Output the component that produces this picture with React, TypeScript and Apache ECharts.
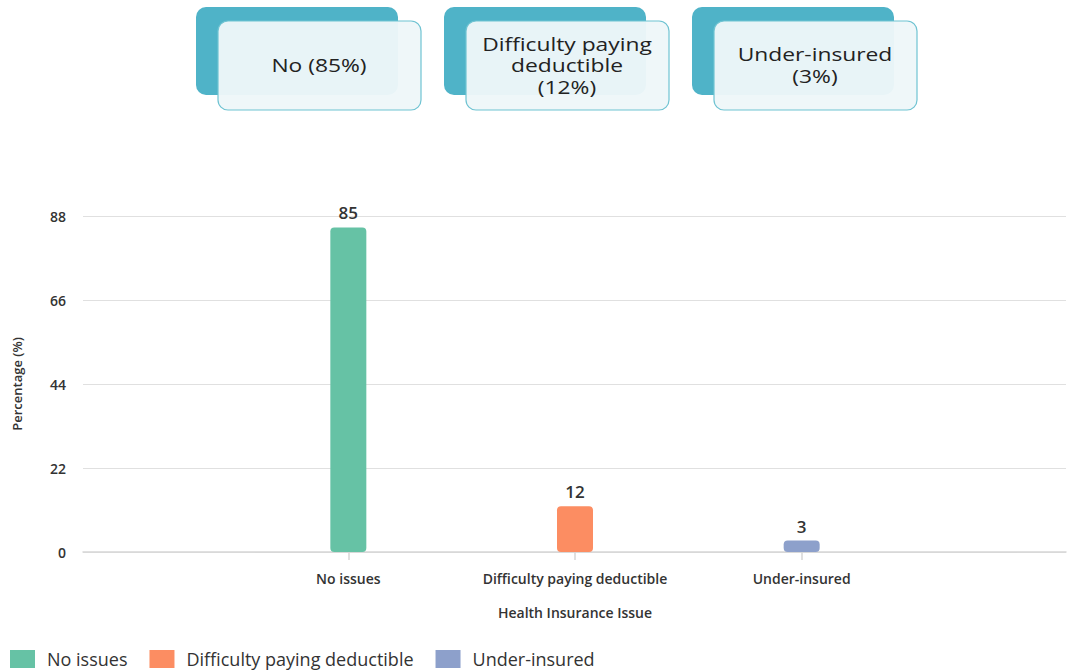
import React, { useEffect, useRef } from "react";
import * as echarts from "echarts";

const categories = ["No issues", "Difficulty paying deductible", "Under-insured"];
const values = [85, 12, 3];
const colors = ["#66c2a5", "#fc8d62", "#8da0cb"];
const yTicks = { min: 0, max: 88, interval: 22 };
const cardLines = [["No (85%)"], ["Difficulty paying", "deductible", "(12%)"], ["Under-insured", "(3%)"]];

const FONT = "'Open Sans', 'Noto Sans', sans-serif";

// Two overlapping rounded boxes with a centred caption, drawn as one group
function card(x: number, lines: string[]) {
  const backX = x;
  const frontX = x + 22;
  const cx = frontX + 101;
  const lh = 21.5;
  const cy = 65;
  const top = cy - ((lines.length - 1) * lh) / 2;
  return {
    type: "group",
    children: [
      {
        type: "rect",
        shape: { x: backX, y: 7, width: 202, height: 88, r: 10 },
        style: { fill: "#4fb3c8" },
      },
      {
        type: "rect",
        shape: { x: frontX, y: 21, width: 203, height: 89, r: 10 },
        style: { fill: "rgba(238,247,249,0.96)", stroke: "#6fc3d2", lineWidth: 1.2 },
      },
      ...lines.map((t, i) => ({
        type: "text",
        x: cx,
        y: top + i * lh,
        scaleX: 1.2,
        style: {
          text: t,
          fill: "#222",
          font: `19px ${FONT}`,
          textAlign: "center",
          textVerticalAlign: "middle",
        },
      })),
    ],
  };
}

export default function App() {
  const ref = useRef<HTMLDivElement>(null);

  useEffect(() => {
    document.body.style.margin = "0";
    const chart = echarts.init(ref.current!, null, { renderer: "svg" });
    const gridTop = 216;
    const gridBottom = 671 - 552;
    const axisText = { color: "#333", fontSize: 14, fontWeight: 600 };

    const series = categories.map((name, i) => ({
      name,
      type: "bar",
      xAxisIndex: 1,
      yAxisIndex: 1,
      stack: "all",
      barWidth: 36,
      data: values.map((v, j) => (j === i ? v : "-")),
      itemStyle: { color: colors[i], borderRadius: 4 },
      label: {
        show: true,
        position: "top",
        distance: 6,
        color: "#333",
        fontFamily: FONT,
        fontSize: 17,
        fontWeight: 600,
      },
    }));

    chart.setOption({
      animation: false,
      textStyle: { fontFamily: FONT },
      grid: [
        { left: 83, right: 1, top: gridTop, bottom: gridBottom },
        { left: 235, width: 680, top: gridTop, bottom: gridBottom },
      ],
      legend: {
        left: 10,
        bottom: 3,
        padding: 0,
        itemWidth: 25,
        itemHeight: 18,
        itemGap: 22,
        icon: "rect",
        textStyle: { fontSize: 18, color: "#333", fontFamily: FONT, padding: [0, 0, 0, 7] },
        data: categories,
      },
      xAxis: [
        {
          type: "category",
          gridIndex: 0,
          data: [""],
          axisLine: { lineStyle: { color: "#d6d6d6", width: 1.5 } },
          axisTick: { show: false },
          axisLabel: { show: false },
        },
        {
          type: "category",
          gridIndex: 1,
          data: categories,
          axisLine: { show: false },
          axisTick: {
            show: true,
            interval: 0,
            alignWithLabel: true,
            length: 8,
            lineStyle: { color: "#d6d6d6", width: 1.5 },
          },
          axisLabel: { ...axisText, margin: 19, interval: 0, hideOverlap: false },
          name: "Health Insurance Issue",
          nameLocation: "middle",
          nameGap: 53,
          nameTextStyle: axisText,
        },
      ],
      yAxis: [
        {
          type: "value",
          gridIndex: 0,
          ...yTicks,
          axisLine: { show: false },
          axisTick: { show: false },
          axisLabel: { ...axisText, margin: 17 },
          splitLine: { lineStyle: { color: "#e0e0e0", width: 1.2 } },
          name: "Percentage (%)",
          nameLocation: "middle",
          nameGap: 60,
          nameTextStyle: { ...axisText, fontSize: 13 },
        },
        {
          type: "value",
          gridIndex: 1,
          ...yTicks,
          show: false,
          splitLine: { show: false },
        },
      ],
      series,
      graphic: [card(196, cardLines[0]), card(444, cardLines[1]), card(692, cardLines[2])],
    });
    return () => chart.dispose();
  }, []);

  return <div ref={ref} style={{ width: 1067, height: 671 }} />;
}
